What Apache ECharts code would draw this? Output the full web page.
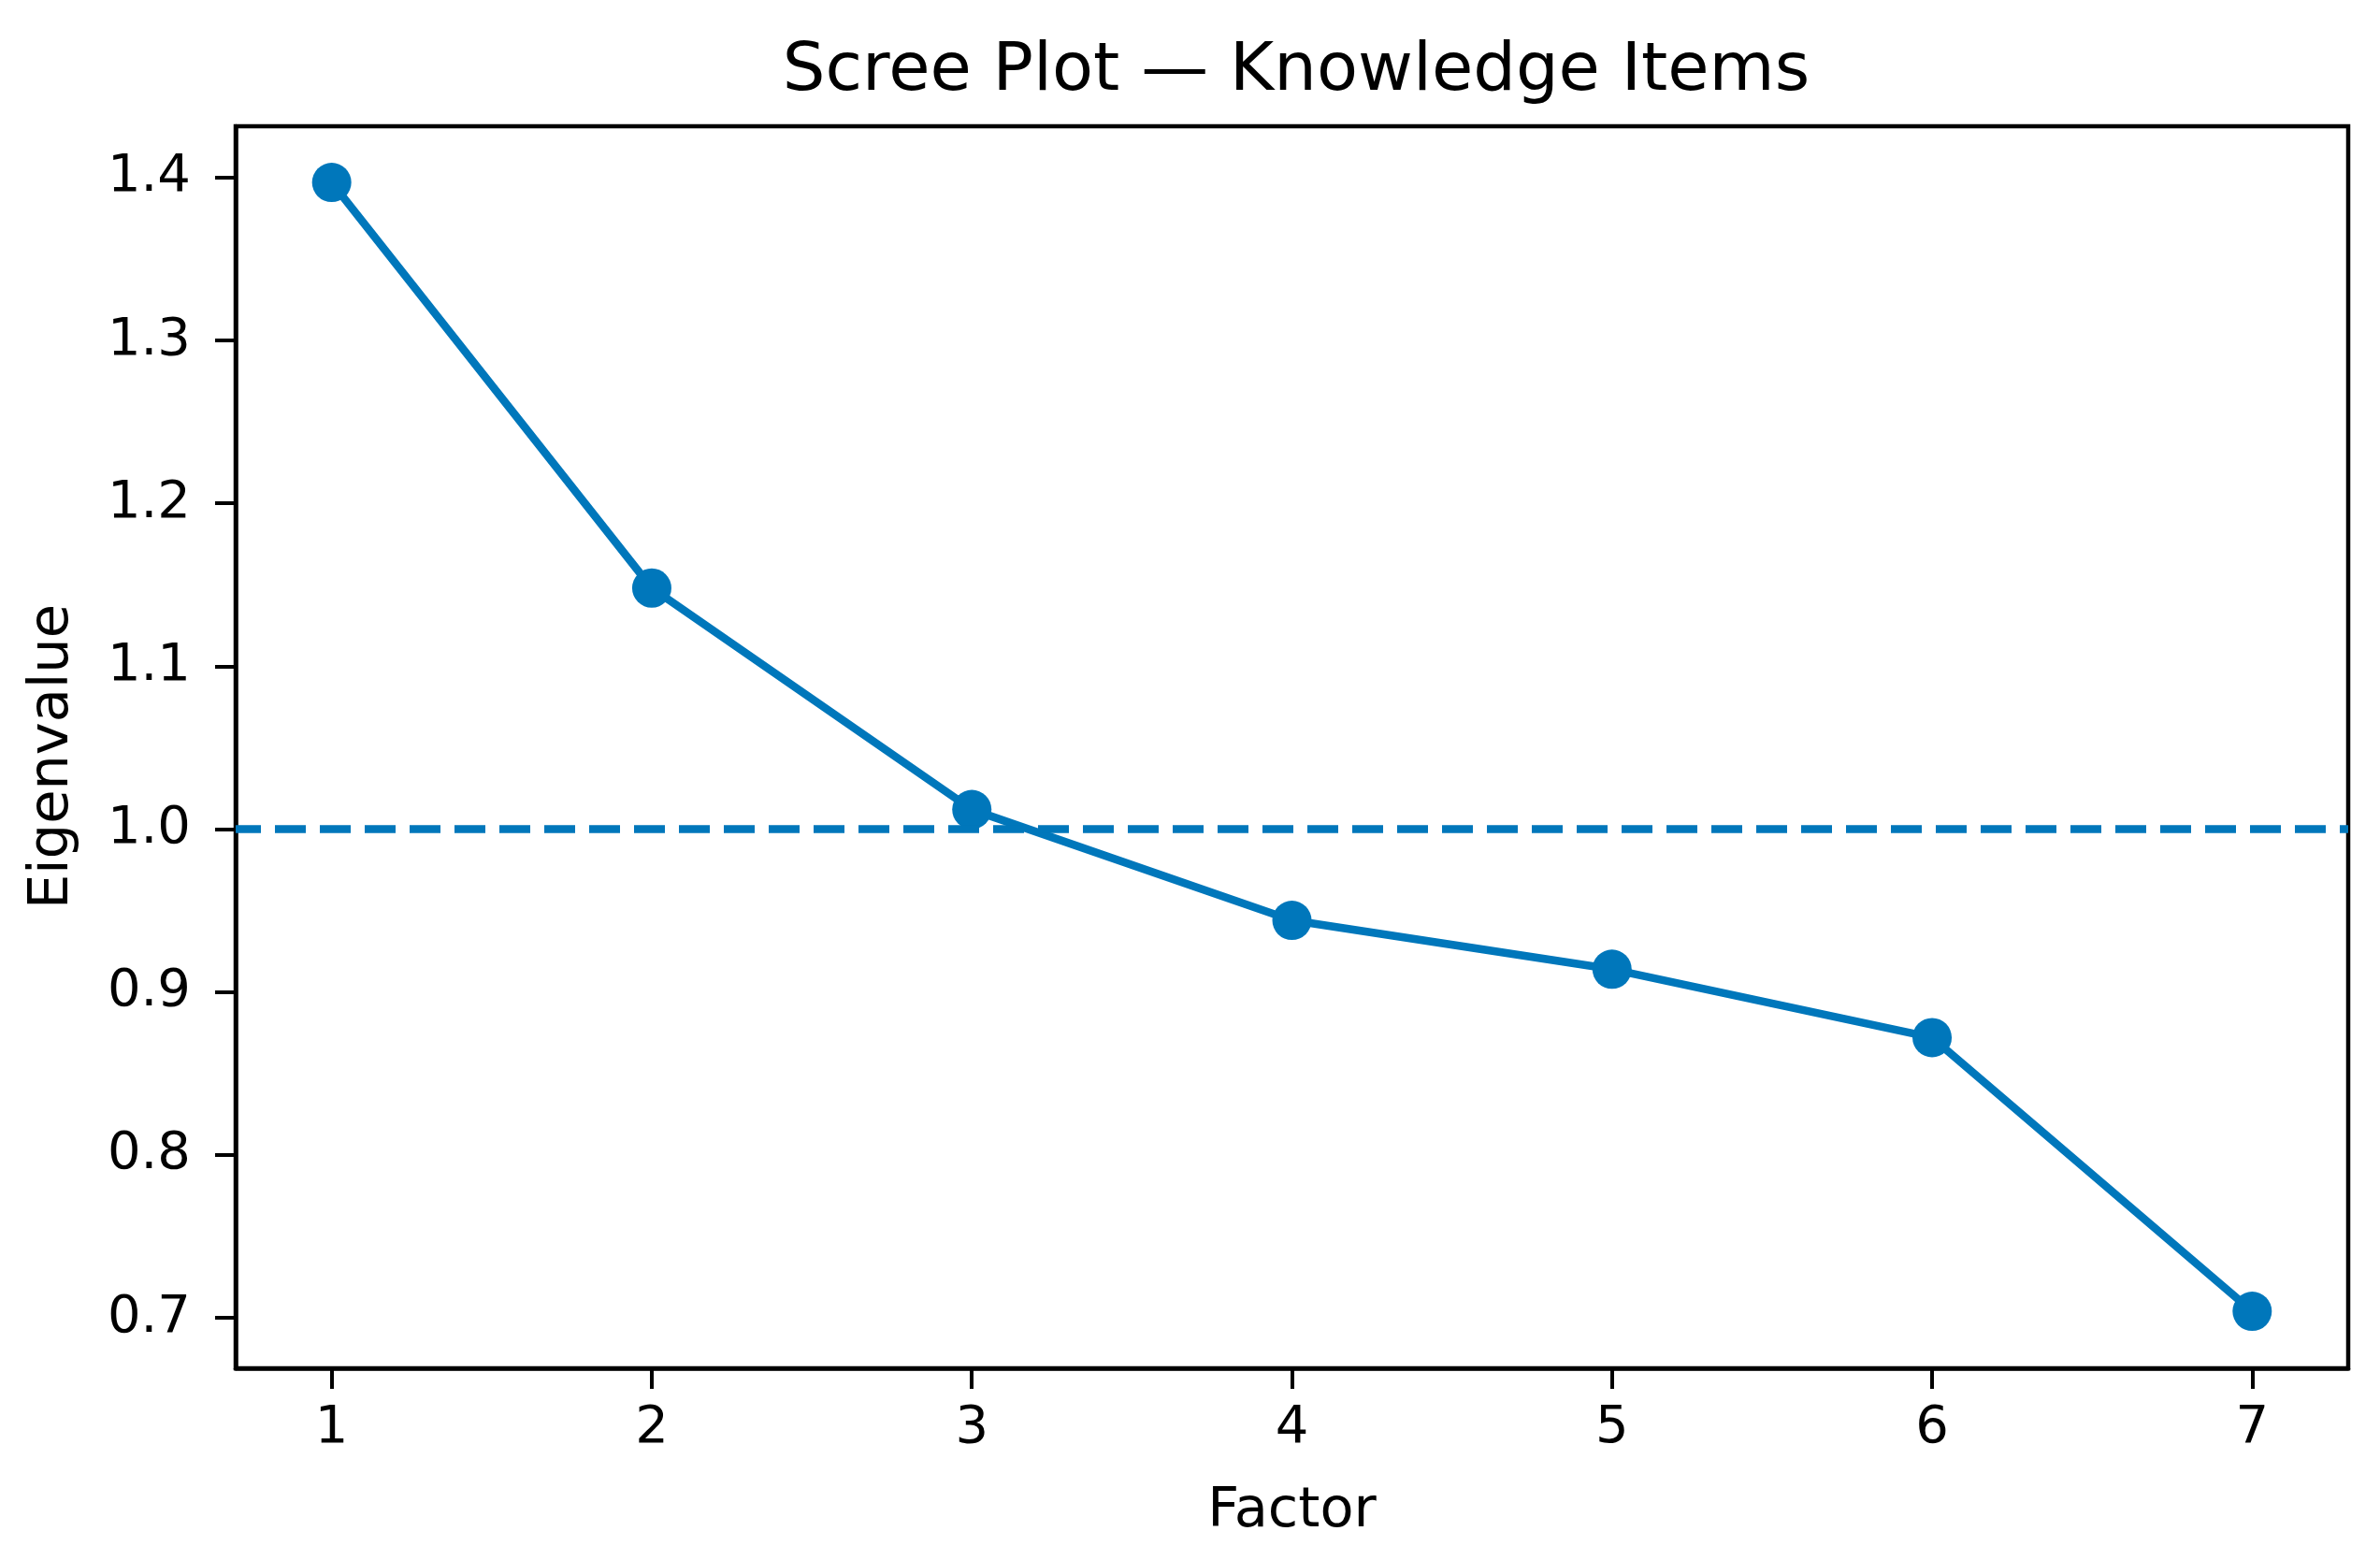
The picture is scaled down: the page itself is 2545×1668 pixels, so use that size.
<!DOCTYPE html>
<html>
<head>
<meta charset="utf-8">
<script src="https://cdn.jsdelivr.net/npm/echarts@6/dist/echarts.min.js"></script>
<style>
html,body{margin:0;padding:0;background:#fff;}
#chart{width:2545px;height:1668px;}
</style>
</head>
<body>
<div id="chart"></div>
<script>
const factors = [1, 2, 3, 4, 5, 6, 7];
const eigenvalues = [1.397, 1.148, 1.012, 0.944, 0.914, 0.872, 0.704];
const xTicks = [1, 2, 3, 4, 5, 6, 7];
const yTicks = [0.7, 0.8, 0.9, 1.0, 1.1, 1.2, 1.3, 1.4];
const threshold = 1.0;
const titleText = 'Scree Plot — Knowledge Items';
const xName = 'Factor';
const yName = 'Eigenvalue';

const FONT = 'DejaVu Sans';
const BLUE = '#0077bb';

const chart = echarts.init(document.getElementById('chart'), null, {renderer: 'canvas'});
chart.setOption({
  backgroundColor: '#ffffff',
  animation: false,
  title: {
    text: titleText,
    left: 1381,
    top: 36,
    textAlign: 'center',
    textStyle: {fontFamily: FONT, fontSize: 72, fontWeight: 'normal', color: '#000'}
  },
  grid: {
    left: 252, right: 34, top: 135, bottom: 205,
    show: true, borderColor: '#000', borderWidth: 4.5, backgroundColor: 'transparent'
  },
  xAxis: {
    type: 'value',
    min: 0.7, max: 7.3,
    name: xName,
    nameLocation: 'middle',
    nameGap: 124,
    nameTextStyle: {fontFamily: FONT, fontSize: 59, color: '#000'},
    axisLine: {show: true, onZero: false, lineStyle: {color: '#000', width: 4.5}},
    axisTick: {show: true, length: 22, lineStyle: {color: '#000', width: 4}, customValues: xTicks},
    axisLabel: {fontFamily: FONT, fontSize: 56, color: '#000', margin: 36, customValues: xTicks,
      formatter: v => String(v)},
    splitLine: {show: false}
  },
  yAxis: {
    type: 'value',
    min: 0.669, max: 1.4315,
    name: yName,
    nameLocation: 'middle',
    nameGap: 166,
    nameRotate: 90,
    nameTextStyle: {fontFamily: FONT, fontSize: 59, color: '#000', padding: [0, 20, 0, 0]},
    axisLine: {show: true, onZero: false, lineStyle: {color: '#000', width: 4.5}},
    axisTick: {show: true, length: 22, lineStyle: {color: '#000', width: 4}, customValues: yTicks},
    axisLabel: {fontFamily: FONT, fontSize: 56, color: '#000', margin: 48, customValues: yTicks,
      formatter: v => v.toFixed(1)},
    splitLine: {show: false}
  },
  series: [{
    type: 'line',
    data: factors.map((f, i) => [f, eigenvalues[i]]),
    symbol: 'circle',
    symbolSize: 42,
    lineStyle: {color: BLUE, width: 8.5},
    itemStyle: {color: BLUE},
    markLine: {
      silent: true,
      symbol: ['none', 'none'],
      label: {show: false},
      lineStyle: {color: BLUE, width: 8.5, type: [33, 15], dashOffset: 6},
      data: [{yAxis: threshold}]
    }
  }]
});
</script>
</body>
</html>
